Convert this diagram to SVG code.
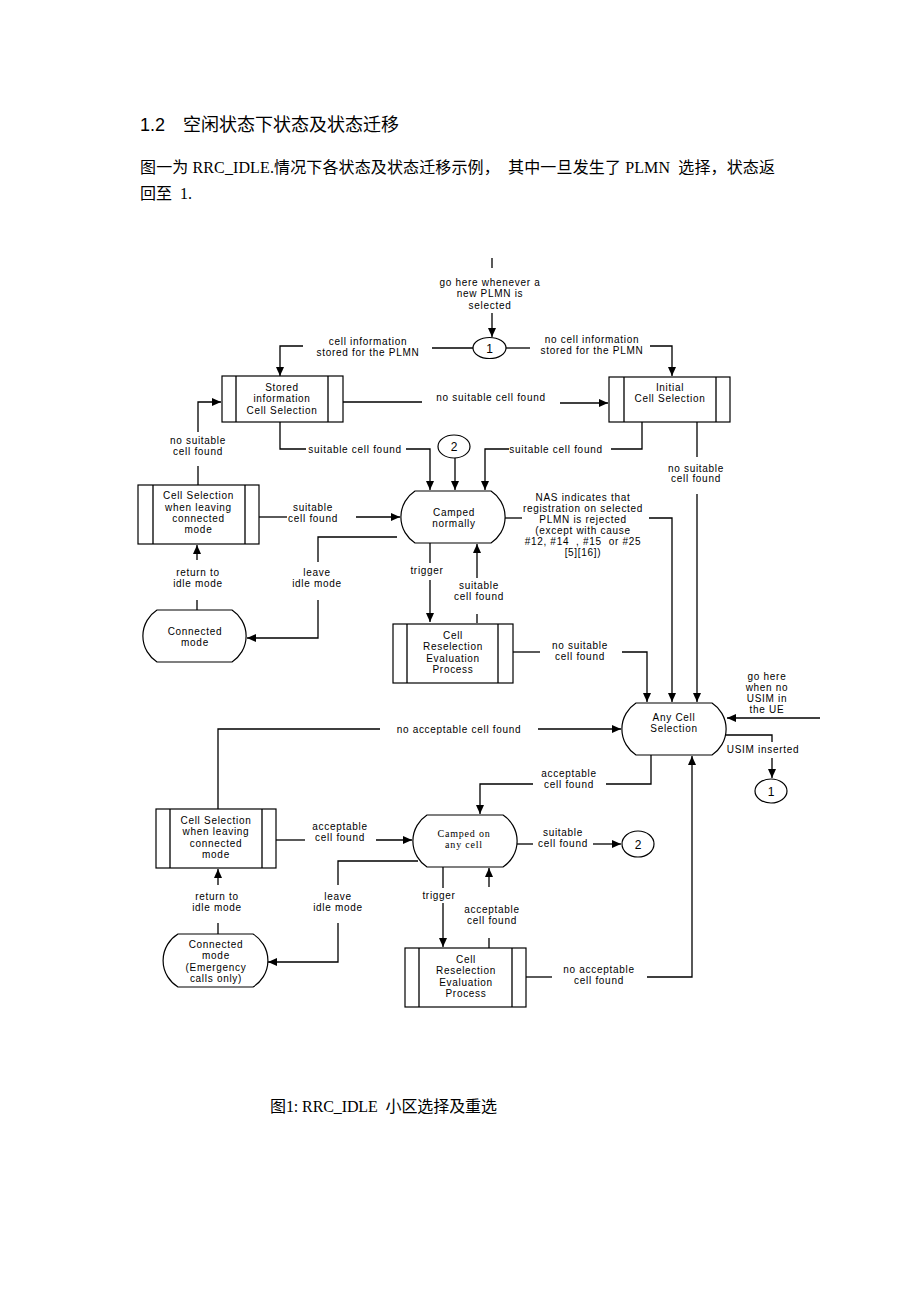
<svg xmlns="http://www.w3.org/2000/svg" width="920" height="1302" viewBox="0 0 920 1302">
<style>
.c{stroke:#000;stroke-width:1.3;fill:none}
.a{marker-end:url(#ah)}
.s{stroke:#000;stroke-width:1.2;fill:#fff}
.t{font-family:"Liberation Sans",Arial,sans-serif;font-size:10px;letter-spacing:0.7px;text-anchor:middle;fill:#000}
.tm{font-family:"Liberation Serif","Times New Roman",serif;font-size:10px;letter-spacing:0.8px;text-anchor:middle;fill:#000}
.n{font-family:"Liberation Sans",Arial,sans-serif;font-size:12px;text-anchor:middle;fill:#000}
.h{font-family:"Liberation Sans","Noto Sans CJK SC",sans-serif;font-size:18px;fill:#000}
.b{font-family:"Liberation Serif","Noto Sans CJK SC",serif;font-size:16px;fill:#000;white-space:pre}
</style>
<defs>
<marker id="ah" viewBox="0 0 9 8" refX="9" refY="4" markerWidth="9" markerHeight="8" markerUnits="userSpaceOnUse" orient="auto"><path d="M0,0 L9,4 L0,8 z" fill="#000"/></marker>
</defs>
<rect width="920" height="1302" fill="#fff"/>

<g id="heading">
<text class="h" x="140" y="131">1.2</text>
<text class="h" x="183" y="131">空闲状态下状态及状态迁移</text>
<text class="b" x="140" y="173" textLength="635" lengthAdjust="spacing">图一为 RRC_IDLE.情况下各状态及状态迁移示例，  其中一旦发生了 PLMN  选择，状态返</text>
<text class="b" x="140" y="199">回至  1.</text>
</g>

<g id="connectors">
<path class="c" d="M492,258 V268" stroke-width="2"/>
<path class="c a" d="M492,313 V337"/>
<path class="c" d="M473,348 H432"/>
<path class="c a" d="M303,346 H280 V376"/>
<path class="c" d="M506,348 H530"/>
<path class="c a" d="M650,346 H672 V376"/>
<path class="c" d="M343,402 H422"/>
<path class="c a" d="M560,403 H608"/>
<path class="c" d="M280,422 V449 H306"/>
<path class="c a" d="M406,449 H430 V490"/>
<path class="c a" d="M455,458 V490"/>
<path class="c" d="M642,422 V449 H611"/>
<path class="c a" d="M509,449 H485 V490"/>
<path class="c" d="M697,422 V457"/>
<path class="c a" d="M697,494 V702"/>
<path class="c" d="M198,485 V466"/>
<path class="c a" d="M198,432 V402 H221"/>
<path class="c" d="M259,517 H287"/>
<path class="c a" d="M356,517 H400"/>
<path class="c" d="M197,610 V600"/>
<path class="c a" d="M197,560 V545"/>
<path class="c" d="M397,537 H318 V562"/>
<path class="c a" d="M318,600 V638 H247"/>
<path class="c" d="M430,543 V563"/>
<path class="c a" d="M430,580 V622"/>
<path class="c" d="M477,623 V614"/>
<path class="c a" d="M477,578 V544"/>
<path class="c" d="M513,652 H540"/>
<path class="c a" d="M622,652 H647 V702"/>
<path class="c" d="M505,518 H522"/>
<path class="c a" d="M649,518 H672 V702"/>
<path class="c a" d="M820,718 H727"/>
<path class="c" d="M726,735 H772 V742"/>
<path class="c a" d="M772,758 V778"/>
<path class="c" d="M380,729 H218 V809"/>
<path class="c a" d="M538,729 H621"/>
<path class="c" d="M276,840 H305"/>
<path class="c a" d="M376,840 H412"/>
<path class="c" d="M651,755 V784 H606"/>
<path class="c a" d="M533,784 H480 V814"/>
<path class="c" d="M517,844 H533"/>
<path class="c a" d="M593,844 H621"/>
<path class="c" d="M418,861 H338 V885"/>
<path class="c a" d="M338,923 V962 H268"/>
<path class="c" d="M218,934 V923"/>
<path class="c a" d="M218,885 V869"/>
<path class="c" d="M443,867 V888"/>
<path class="c a" d="M443,903 V947"/>
<path class="c" d="M489,948 V938"/>
<path class="c a" d="M489,887 V868"/>
<path class="c" d="M526,977 H552"/>
<path class="c a" d="M647,977 H692 V756"/>
</g>

<g id="labels">
<text class="t" x="490" y="285.5">go here whenever a</text>
<text class="t" x="490" y="297">new PLMN is</text>
<text class="t" x="490" y="308.5">selected</text>
<text class="t" x="368" y="344.5">cell information</text>
<text class="t" x="368" y="355.5">stored for the PLMN</text>
<text class="t" x="592" y="342.5">no cell information</text>
<text class="t" x="592" y="353.5">stored for the PLMN</text>
<text class="t" x="491" y="400.5">no suitable cell found</text>
<text class="t" x="355" y="452.5">suitable cell found</text>
<text class="t" x="556" y="452.5">suitable cell found</text>
<text class="t" x="198" y="443.5">no suitable</text>
<text class="t" x="198" y="454.5">cell found</text>
<text class="t" x="696" y="471.5">no suitable</text>
<text class="t" x="696" y="482">cell found</text>
<text class="t" x="313" y="510.5">suitable</text>
<text class="t" x="313" y="521.5">cell found</text>
<text class="t" x="583" y="500.5">NAS indicates that</text>
<text class="t" x="583" y="511.5">registration on selected</text>
<text class="t" x="583" y="522.5">PLMN is rejected</text>
<text class="t" x="583" y="533.5">(except with cause</text>
<text class="t" x="583" y="544.5" style="white-space:pre">#12, #14  , #15  or #25</text>
<text class="t" x="583" y="556">[5][16])</text>
<text class="t" x="198" y="575.5">return to</text>
<text class="t" x="198" y="586.5">idle mode</text>
<text class="t" x="317" y="575.5">leave</text>
<text class="t" x="317" y="586.5">idle mode</text>
<text class="t" x="427" y="573.5">trigger</text>
<text class="t" x="479" y="588.5">suitable</text>
<text class="t" x="479" y="599.5">cell found</text>
<text class="t" x="580" y="648.5">no suitable</text>
<text class="t" x="580" y="659.5">cell found</text>
<text class="t" x="767" y="679.5">go here</text>
<text class="t" x="767" y="690.5">when no</text>
<text class="t" x="767" y="701.5">USIM in</text>
<text class="t" x="767" y="712.5">the UE</text>
<text class="t" x="763" y="752.5">USIM inserted</text>
<text class="t" x="459" y="732.5">no acceptable cell found</text>
<text class="t" x="569" y="776.5">acceptable</text>
<text class="t" x="569" y="787.5">cell found</text>
<text class="t" x="340" y="829.5">acceptable</text>
<text class="t" x="340" y="840.5">cell found</text>
<text class="t" x="563" y="835.5">suitable</text>
<text class="t" x="563" y="846.5">cell found</text>
<text class="t" x="217" y="899.5">return to</text>
<text class="t" x="217" y="910.5">idle mode</text>
<text class="t" x="338" y="899.5">leave</text>
<text class="t" x="338" y="910.5">idle mode</text>
<text class="t" x="439" y="898.5">trigger</text>
<text class="t" x="492" y="912.5">acceptable</text>
<text class="t" x="492" y="923.5">cell found</text>
<text class="t" x="599" y="972.5">no acceptable</text>
<text class="t" x="599" y="983.5">cell found</text>
</g>

<g id="conn1">
<ellipse class="s" cx="489.5" cy="348" rx="16.5" ry="10.5"/>
<text class="n" x="489.5" y="352.5">1</text>
</g>
<g id="conn2">
<ellipse class="s" cx="454" cy="446.5" rx="16" ry="11.5"/>
<text class="n" x="454" y="451">2</text>
</g>
<g id="conn1b">
<ellipse class="s" cx="771" cy="791" rx="16" ry="12"/>
<text class="n" x="771" y="795.5">1</text>
</g>
<g id="conn2b">
<ellipse class="s" cx="638" cy="844" rx="16" ry="13"/>
<text class="n" x="638" y="848.5">2</text>
</g>

<g id="stored">
<rect class="s" x="222" y="376" width="121" height="46"/>
<path class="c" d="M236,376 V422 M328,376 V422" stroke-width="1.2"/>
<text class="t" x="282" y="390.5">Stored</text>
<text class="t" x="282" y="401.5">information</text>
<text class="t" x="282" y="413.5">Cell Selection</text>
</g>
<g id="initial">
<rect class="s" x="609" y="377" width="121" height="45"/>
<path class="c" d="M624,377 V422 M716,377 V422" stroke-width="1.2"/>
<text class="t" x="670" y="390.5">Initial</text>
<text class="t" x="670" y="401.5">Cell Selection</text>
</g>
<g id="cs-leave1">
<rect class="s" x="138" y="485" width="121" height="59"/>
<path class="c" d="M153,485 V544 M245,485 V544" stroke-width="1.2"/>
<text class="t" x="198.5" y="498.5">Cell Selection</text>
<text class="t" x="198.5" y="510.5">when leaving</text>
<text class="t" x="198.5" y="522">connected</text>
<text class="t" x="198.5" y="532.5">mode</text>
</g>
<g id="camped-normally">
<path class="s" d="M415,491 H491 A31,31 0 0 1 491,543 H415 A31,31 0 0 1 415,491 Z"/>
<text class="t" x="454" y="515.5">Camped</text>
<text class="t" x="454" y="526.5">normally</text>
</g>
<g id="connected1">
<path class="s" d="M157,610 H232 A31,31 0 0 1 232,662 H157 A31,31 0 0 1 157,610 Z"/>
<text class="t" x="195" y="634.5">Connected</text>
<text class="t" x="195" y="645.5">mode</text>
</g>
<g id="reselect1">
<rect class="s" x="393" y="624" width="120" height="59"/>
<path class="c" d="M407,624 V683 M498,624 V683" stroke-width="1.2"/>
<text class="t" x="453" y="638.5">Cell</text>
<text class="t" x="453" y="650">Reselection</text>
<text class="t" x="453" y="661.5">Evaluation</text>
<text class="t" x="453" y="672.5">Process</text>
</g>
<g id="any-cell">
<path class="s" d="M636,703 H712 A31,31 0 0 1 712,755 H636 A31,31 0 0 1 636,703 Z"/>
<text class="t" x="674" y="720.5">Any Cell</text>
<text class="t" x="674" y="731.5">Selection</text>
</g>
<g id="cs-leave2">
<rect class="s" x="156" y="809" width="120" height="59"/>
<path class="c" d="M170,809 V868 M262,809 V868" stroke-width="1.2"/>
<text class="t" x="216" y="823.5">Cell Selection</text>
<text class="t" x="216" y="834.5">when leaving</text>
<text class="t" x="216" y="846.5">connected</text>
<text class="t" x="216" y="857.5">mode</text>
</g>
<g id="camped-any">
<path class="s" d="M427,815 H503 A31,31 0 0 1 503,867 H427 A31,31 0 0 1 427,815 Z"/>
<text class="tm" x="464" y="836.5">Camped on</text>
<text class="tm" x="464" y="848">any cell</text>
</g>
<g id="connected2">
<path class="s" d="M178,934 H253 A31,31 0 0 1 253,987 H178 A31,31 0 0 1 178,934 Z"/>
<text class="t" x="216" y="947.5">Connected</text>
<text class="t" x="216" y="959">mode</text>
<text class="t" x="216" y="970.5">(Emergency</text>
<text class="t" x="216" y="981.5">calls only)</text>
</g>
<g id="reselect2">
<rect class="s" x="405" y="948" width="121" height="59"/>
<path class="c" d="M419,948 V1007 M512,948 V1007" stroke-width="1.2"/>
<text class="t" x="466" y="962.5">Cell</text>
<text class="t" x="466" y="973.5">Reselection</text>
<text class="t" x="466" y="985.5">Evaluation</text>
<text class="t" x="466" y="996.5">Process</text>
</g>

<g id="caption">
<text class="b" x="270" y="1112" textLength="227" lengthAdjust="spacing">图1: RRC_IDLE  小区选择及重选</text>
</g>
</svg>
